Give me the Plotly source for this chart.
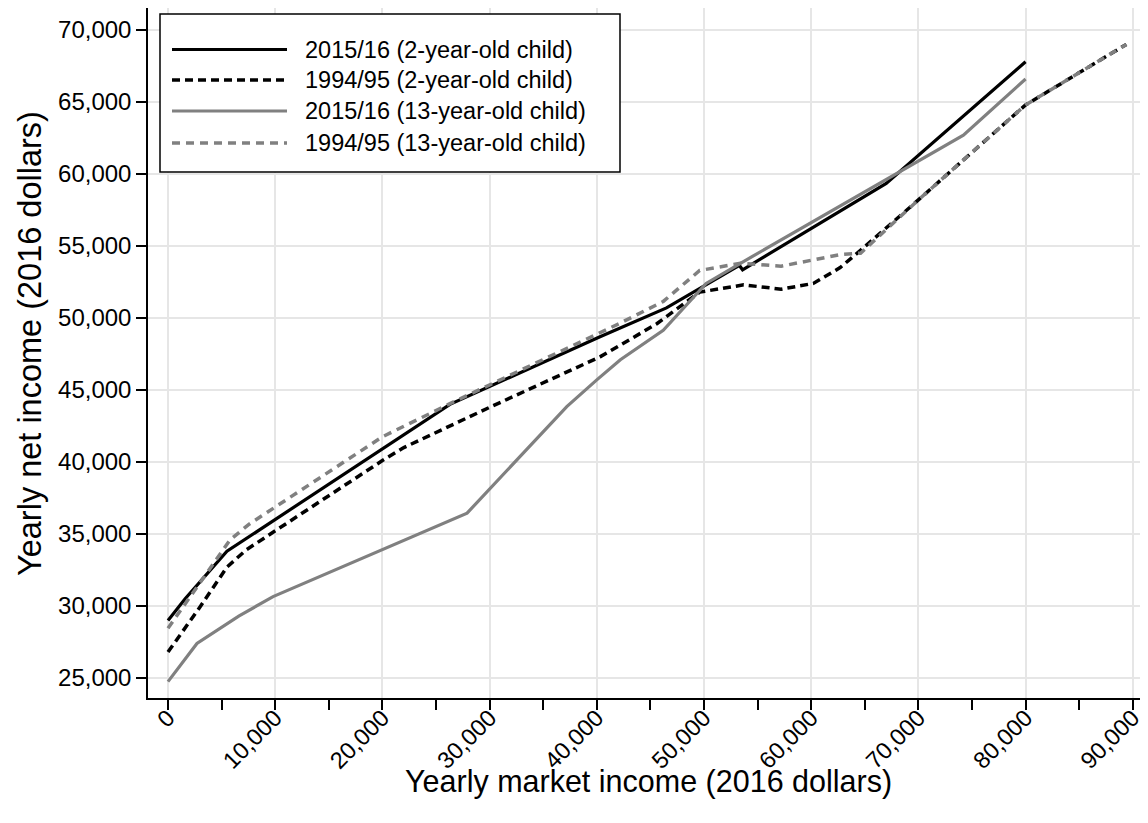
import plotly.graph_objects as go

# ---------------- data ----------------
series_names = [
    "2015/16 (2-year-old child)",
    "1994/95 (2-year-old child)",
    "2015/16 (13-year-old child)",
    "1994/95 (13-year-old child)",
]
x_title = "Yearly market income (2016 dollars)"
y_title = "Yearly net income (2016 dollars)"

# 2015/16, 2-year-old child (black solid)
x_2015_age2 = [0, 1600, 5500, 26300, 40300, 46500, 53300, 53600, 67000, 80000]
y_2015_age2 = [29000, 30500, 33800, 44000, 48700, 50700, 53650, 53350, 59350, 67800]

# 1994/95, 2-year-old child (black dotted)
x_1995_age2 = [0, 3000, 5500, 7300, 20000, 22000, 30300, 40300, 45600, 49600,
               53700, 57200, 60200, 62700, 64600, 70000, 80000, 89400]
y_1995_age2 = [26800, 29950, 32700, 33900, 40100, 41000, 43900, 47300, 49600, 51800,
               52300, 52000, 52400, 53500, 54700, 58200, 64800, 69000]

# 2015/16, 13-year-old child (grey solid)
x_2015_age13 = [0, 2700, 6600, 9800, 27900, 37200, 40000, 42200, 46200, 50200,
                53400, 68000, 74200, 80000]
y_2015_age13 = [24750, 27400, 29300, 30650, 36450, 43850, 45700, 47100, 49150, 52400,
                53800, 60050, 62700, 66600]

# 1994/95, 13-year-old child (grey dashed)
x_1995_age13 = [0, 5800, 7600, 20000, 26300, 42200, 46200, 49600, 53400, 57200,
                62700, 64600, 70000, 80000, 89400]
y_1995_age13 = [28450, 34600, 35700, 41750, 44050, 49650, 51150, 53300, 53800, 53600,
                54400, 54500, 58200, 64800, 69000]

x_ticks = [0, 10000, 20000, 30000, 40000, 50000, 60000, 70000, 80000, 90000]
y_ticks = [25000, 30000, 35000, 40000, 45000, 50000, 55000, 60000, 65000, 70000]

# ---------------- styling ----------------
BLACK = "#000000"
GREY = "#808080"
FONT = "Liberation Sans, Arial, Helvetica, sans-serif"

styles = [
    dict(color=BLACK, width=3.2, dash="solid"),
    dict(color=BLACK, width=3.5, dash="8px,5px"),
    dict(color=GREY, width=3.2, dash="solid"),
    dict(color=GREY, width=3.5, dash="8px,6px"),
]
xs = [x_2015_age2, x_1995_age2, x_2015_age13, x_1995_age13]
ys = [y_2015_age2, y_1995_age2, y_2015_age13, y_1995_age13]

fig = go.Figure()
for name, x, y, st in zip(series_names, xs, ys, styles):
    fig.add_trace(go.Scatter(x=x, y=y, mode="lines", name=name, line=st,
                             showlegend=False))

# ---------------- custom legend (long line samples like the reference) ----------------
PLOT_H = 690.0
PLOT_W = 1000.0
leg_x0, leg_x1 = 0.012, 0.472
leg_y0, leg_y1 = (698 - 172) / PLOT_H, (698 - 14) / PLOT_H
fig.add_shape(type="rect", xref="paper", yref="paper",
              x0=leg_x0, x1=leg_x1, y0=leg_y0, y1=leg_y1,
              line=dict(color=BLACK, width=1.5), fillcolor="white", layer="above")
row_px = [49.5, 80, 111, 143]
for name, st, rp in zip(series_names, styles, row_px):
    yy = (698 - rp) / PLOT_H
    fig.add_shape(type="line", xref="paper", yref="paper",
                  x0=0.024, x1=0.139, y0=yy, y1=yy, layer="above",
                  line=dict(color=st["color"], width=st["width"], dash=st["dash"]))
    fig.add_annotation(xref="paper", yref="paper", x=0.155, y=yy,
                       text=name, showarrow=False, xanchor="left", yanchor="middle",
                       font=dict(family=FONT, size=23.5, color=BLACK))

# axis titles placed as annotations for exact positioning
fig.add_annotation(xref="paper", yref="paper", x=0.5, y=(698 - 781) / PLOT_H,
                   text=x_title, showarrow=False, xanchor="center", yanchor="middle",
                   font=dict(family=FONT, size=30.5, color=BLACK))
fig.add_annotation(xref="paper", yref="paper", x=(30 - 148) / PLOT_W, y=(698 - 344) / PLOT_H,
                   text=y_title, showarrow=False, textangle=-90,
                   xanchor="center", yanchor="middle",
                   font=dict(family=FONT, size=32.5, color=BLACK))

# the page body adds an 8px margin, so the figure is sized 8px smaller
fig.update_layout(
    width=1140, height=815,
    margin=dict(l=140, r=0, t=0, b=125, autoexpand=False),
    paper_bgcolor="white", plot_bgcolor="white",
    font=dict(family=FONT, color=BLACK),
    showlegend=False,
)
fig.update_xaxes(
    range=[-1866, 91420], automargin=False,
    tickvals=x_ticks, tickformat=",d", tickangle=-45,
    tickfont=dict(family=FONT, size=23.5, color=BLACK),
    ticklabelstandoff=-15,
    ticks="outside", ticklen=10, tickwidth=1.5, tickcolor=BLACK,
    minor=dict(dtick=5000, tick0=0, ticks="outside", ticklen=10, tickwidth=1.5,
               tickcolor=BLACK, showgrid=False),
    showline=True, linecolor=BLACK, linewidth=1.5,
    showgrid=True, gridcolor="#e6e6e6", gridwidth=2, zeroline=False,
)
fig.update_yaxes(
    range=[23611, 71528], automargin=False,
    tickvals=y_ticks, tickformat=",d",
    tickfont=dict(family=FONT, size=24, color=BLACK),
    ticks="outside", ticklen=10, tickwidth=1.5, tickcolor=BLACK,
    showline=True, linecolor=BLACK, linewidth=1.5,
    showgrid=True, gridcolor="#e6e6e6", gridwidth=2, zeroline=False,
)

fig.write_html("out.html")
